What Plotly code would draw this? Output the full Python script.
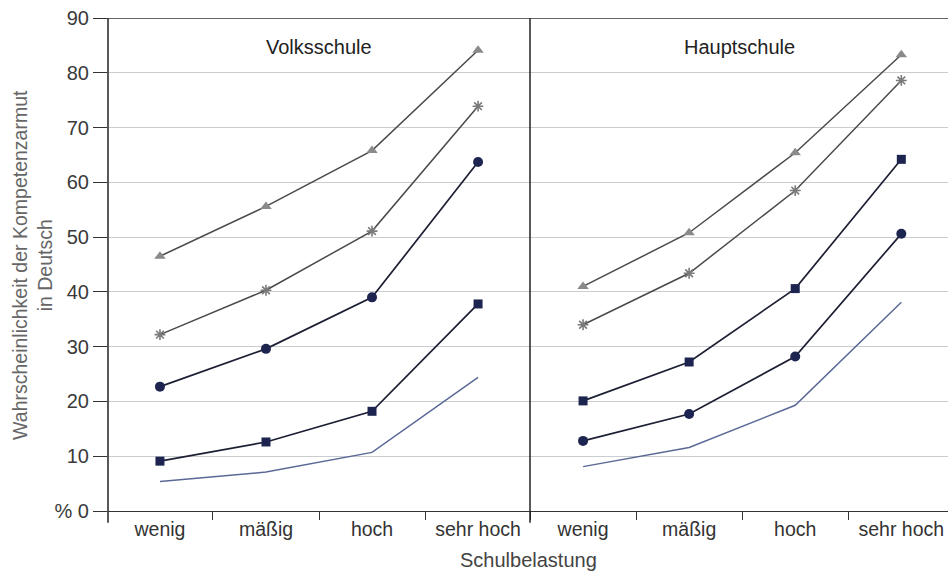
import plotly.graph_objects as go

categories = ["wenig", "mäßig", "hoch", "sehr hoch"]
panels = ["Volksschule", "Hauptschule"]

# Volksschule
vs_triangle = [46.5, 55.6, 65.8, 84.1]
vs_star = [32.2, 40.3, 51.1, 73.9]
vs_circle = [22.7, 29.6, 39.0, 63.7]
vs_square = [9.1, 12.6, 18.2, 37.8]
vs_line = [5.4, 7.1, 10.7, 24.4]

# Hauptschule
hs_triangle = [41.0, 50.8, 65.4, 83.3]
hs_star = [34.0, 43.4, 58.5, 78.6]
hs_square = [20.1, 27.2, 40.6, 64.2]
hs_circle = [12.8, 17.7, 28.2, 50.6]
hs_line = [8.1, 11.6, 19.3, 38.1]

y_ticks = [0, 10, 20, 30, 40, 50, 60, 70, 80, 90]
y_ticktext = ["% 0", "10", "20", "30", "40", "50", "60", "70", "80", "90"]

FONT = "Liberation Sans, Arial, sans-serif"

styles = {
    "triangle": dict(line=dict(color="#4a4a4a", width=1.5),
                     marker=dict(symbol="triangle-up", size=10, color="#8a8a8a")),
    "star": dict(line=dict(color="#4a4a4a", width=1.5),
                 marker=dict(symbol="asterisk-open", size=9, color="#7a7a7a",
                             line=dict(width=1.6, color="#7a7a7a"))),
    "circle": dict(line=dict(color="#1c1f33", width=1.7),
                   marker=dict(symbol="circle", size=10, color="#1e2450")),
    "square": dict(line=dict(color="#1c1f33", width=1.7),
                   marker=dict(symbol="square", size=9, color="#1e2450")),
    "line": dict(line=dict(color="#5a6896", width=1.5), marker=dict(size=1)),
}

fig = go.Figure()

def add(vals, kind, xa, ya):
    s = styles[kind]
    fig.add_trace(go.Scatter(
        x=categories, y=vals, mode="lines" if kind == "line" else "lines+markers",
        line=s["line"], marker=s["marker"], xaxis=xa, yaxis=ya,
        showlegend=False, hoverinfo="skip"))

for vals, kind in [(vs_line, "line"), (vs_square, "square"), (vs_circle, "circle"),
                   (vs_star, "star"), (vs_triangle, "triangle")]:
    add(vals, kind, "x", "y")
for vals, kind in [(hs_line, "line"), (hs_circle, "circle"), (hs_square, "square"),
                   (hs_star, "star"), (hs_triangle, "triangle")]:
    add(vals, kind, "x2", "y2")

split = 422 / 840

xcommon = dict(type="category", categoryorder="array", categoryarray=categories,
               showgrid=False, zeroline=False, showline=True, linecolor="#333333",
               linewidth=1.3, ticks="outside", tickson="boundaries", ticklen=8,
               tickcolor="#333333", tickwidth=1.3,
               tickfont=dict(family=FONT, size=19.5, color="#333333"))

fig.update_layout(
    width=948, height=572,
    margin=dict(l=108, r=0, t=18, b=61),
    paper_bgcolor="white", plot_bgcolor="white",
    font=dict(family=FONT, color="#333333"),
    xaxis=dict(domain=[0, split], range=[-0.49, 3.49], **xcommon),
    xaxis2=dict(domain=[split, 1], range=[-0.5, 3.44], anchor="y2", **xcommon),
    yaxis=dict(range=[0, 90], tickvals=y_ticks, ticktext=y_ticktext,
               showgrid=True, gridcolor="#c9cdd0", gridwidth=1.2,
               zeroline=False, showline=False, ticks="outside", ticklen=14,
               tickcolor="#333333", tickwidth=1.3,
               tickfont=dict(family=FONT, size=20, color="#3a3a3a")),
    yaxis2=dict(range=[0, 90], anchor="x2", matches="y", showticklabels=False,
                showgrid=True, gridcolor="#c9cdd0", gridwidth=1.2,
                zeroline=False, showline=False, ticks=""),
)

shapes = []
# vertical axis lines (left axis and panel divider), extending slightly below
for xr in ["x domain", "x2 domain"]:
    shapes.append(dict(type="line", xref=xr, yref="paper", x0=0, x1=0,
                       y0=-0.024, y1=1, line=dict(color="#222222", width=1.5)))
# top border line at 90
shapes.append(dict(type="line", xref="paper", yref="y", x0=-0.015, x1=1,
                   y0=90, y1=90, line=dict(color="#333333", width=1.5)))
fig.update_layout(shapes=shapes)

annotations = [
    dict(text=panels[0], xref="x domain", yref="y", x=0.5, y=84.7, showarrow=False,
         font=dict(family=FONT, size=20, color="#222222")),
    dict(text=panels[1], xref="x2 domain", yref="y", x=0.5, y=84.7, showarrow=False,
         font=dict(family=FONT, size=20, color="#222222")),
    dict(text="Wahrscheinlichkeit der Kompetenzarmut<br>in Deutsch", textangle=-90,
         xref="paper", yref="paper", x=-0.09, xanchor="center", y=0.5, showarrow=False,
         font=dict(family=FONT, size=19.5, color="#666666")),
    dict(text="Schulbelastung", xref="paper", yref="paper", x=0.5, y=-0.1,
         yanchor="middle", showarrow=False,
         font=dict(family=FONT, size=20, color="#444444")),
]
fig.update_layout(annotations=annotations)

fig.write_html("out.html", config={"displayModeBar": False},
               post_script="document.body.style.margin='0';")
